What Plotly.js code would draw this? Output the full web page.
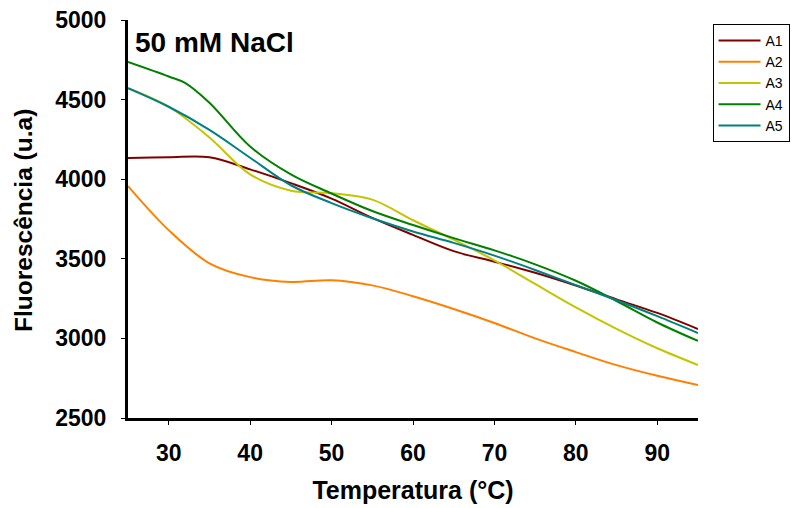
<!DOCTYPE html>
<html>
<head>
<meta charset="utf-8">
<script src="https://cdn.plot.ly/plotly-3.0.1.min.js"></script>
<style>html,body{margin:0;padding:0;background:#fff;}#chart{width:795px;height:508px;}</style>
</head>
<body>
<div id="chart"></div>
<script>
const temps = [25, 30, 35, 40, 45, 50, 55, 60, 65, 70, 75, 80, 85, 90, 95];
const tempsA4 = [25, 30, 32, 35, 40, 45, 50, 55, 60, 65, 70, 75, 80, 85, 90, 95];
const seriesNames = ['A1', 'A2', 'A3', 'A4', 'A5'];
const a1 = [4133, 4138, 4138, 4062, 3975, 3878, 3757, 3650, 3548, 3482, 3412, 3332, 3245, 3160, 3059];
const a2 = [3957, 3680, 3472, 3385, 3355, 3365, 3333, 3265, 3185, 3097, 3000, 2914, 2832, 2765, 2707];
const a3 = [4572, 4455, 4262, 4030, 3928, 3912, 3872, 3742, 3620, 3490, 3342, 3195, 3060, 2938, 2833];
const a4 = [4736, 4645, 4605, 4480, 4205, 4030, 3910, 3800, 3712, 3630, 3553, 3465, 3362, 3235, 3100, 2984];
const a5 = [4572, 4455, 4310, 4135, 3962, 3850, 3755, 3672, 3600, 3520, 3430, 3335, 3240, 3140, 3034];
const colors = ['#800000', '#FF8000', '#C4C400', '#008000', '#008080'];
const xTicks = [30, 40, 50, 60, 70, 80, 90];
const yTicks = [2500, 3000, 3500, 4000, 4500, 5000];

const F = 'Liberation Sans, Arial, sans-serif';
const ys = [a1, a2, a3, a4, a5];
const traces = ys.map((y, i) => ({
  x: i === 3 ? tempsA4 : temps,
  y: y,
  name: seriesNames[i],
  type: 'scatter',
  mode: 'lines',
  line: {color: colors[i], width: 2, shape: 'spline', smoothing: 1}
}));

const layout = {
  width: 795, height: 508,
  margin: {l: 128, r: 97, t: 20, b: 90, autoexpand: false},
  paper_bgcolor: '#fff', plot_bgcolor: '#fff',
  showlegend: true,
  legend: {
    x: 1.0255, xanchor: 'left', y: 0.99, yanchor: 'top',
    bordercolor: '#000', borderwidth: 1, bgcolor: '#fff',
    font: {family: F, size: 14, color: '#000'},
    itemwidth: 42,
    tracegroupgap: 0
  },
  xaxis: {
    range: [25, 95], tickvals: xTicks, ticktext: xTicks.map(String),
    showline: true, linecolor: '#000', linewidth: 3,
    ticks: 'outside', ticklen: 4, tickwidth: 1, tickcolor: '#000',
    ticklabelstandoff: 8,
    showgrid: false, zeroline: false,
    tickfont: {family: F, size: 23, color: '#000', weight: 'bold'},
    title: {text: 'Temperatura (°C)', font: {family: F, size: 25, color: '#000', weight: 'bold'}, standoff: 17}
  },
  yaxis: {
    range: [2500, 5000], tickvals: yTicks, ticktext: yTicks.map(String),
    showline: true, linecolor: '#000', linewidth: 3,
    ticks: 'outside', ticklen: 4, tickwidth: 1, tickcolor: '#000',
    ticklabelstandoff: 10,
    showgrid: false, zeroline: false,
    tickfont: {family: F, size: 23, color: '#000', weight: 'bold'}
  },
  annotations: [{
    xref: 'paper', yref: 'paper', x: 0.008, y: 0.988, xanchor: 'left', yanchor: 'top',
    text: '<b>50 mM NaCl</b>', showarrow: false,
    font: {family: F, size: 28, color: '#000'}
  }, {
    xref: 'paper', yref: 'paper', x: -0.1825, y: 0.4975, xanchor: 'center', yanchor: 'middle',
    textangle: -90,
    text: '<b>Fluorescência (u.a)</b>', showarrow: false,
    font: {family: F, size: 24.5, color: '#000'}
  }]
};

Plotly.newPlot('chart', traces, layout, {displayModeBar: false, staticPlot: true});
</script>
</body>
</html>
